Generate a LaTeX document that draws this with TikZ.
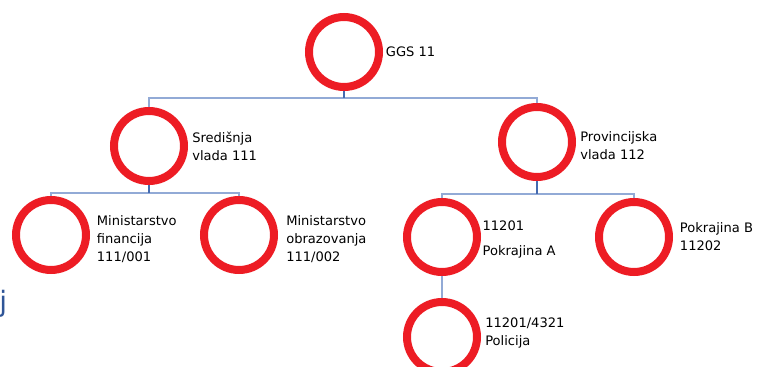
\documentclass[tikz,border=0pt]{standalone}
\usepackage{fontspec}
\setmainfont{DejaVu Sans}
\usetikzlibrary{positioning}

\definecolor{ringred}{RGB}{237,28,36}
\definecolor{buslight}{RGB}{146,170,214}
\definecolor{busdark}{RGB}{68,106,176}
\definecolor{inkblue}{RGB}{47,85,151}

\tikzset{
  unit/.style={circle, draw=ringred, line width=6pt, minimum size=52.5pt, inner sep=0pt},
  tag/.style={align=left, inner sep=0pt, font=\fontsize{9.8}{13.5}\selectfont},
  bus/.style={draw=buslight, line width=1.6pt},
  stub/.style={draw=busdark, line width=1.6pt},
}

\begin{document}
\begin{tikzpicture}[x=0.75pt, y=-0.75pt]
\useasboundingbox (0,0) rectangle (757,367);

% Bus heights
\coordinate (BusTop) at (0,98);
\coordinate (BusLeft) at (0,193);
\coordinate (BusRight) at (0,194);

% Organisation units
\node[unit] (GGS) at (344,52) {};
\node[unit] (Sred) at (149,146) {};
\node[unit] (Prov) at (537,142) {};
\node[unit] (Fin) at (51,235) {};
\node[unit] (Obr) at (239,235) {};
\node[unit] (PokA) at (442,237) {};
\node[unit] (PokB) at (634,237) {};
\node[unit] (Pol) at (442,337) {};

% Labels next to the rings
\node[tag, right=2pt of GGS] (GGSTag) {GGS 11};
\node[tag, right=3pt of Sred] (SredTag) {Središnja\\vlada 111};
\node[tag, right=3pt of Prov, yshift=-3pt] (ProvTag) {Provincijska\\vlada 112};
\node[tag, right=5pt of Fin, yshift=-3pt] (FinTag) {Ministarstvo\\financija\\111/001};
\node[tag, right=6pt of Obr, yshift=-3pt] (ObrTag) {Ministarstvo\\obrazovanja\\111/002};
\node[tag, right=1pt of PokA, yshift=-2pt, font=\fontsize{9.8}{18.75}\selectfont] (PokATag) {11201\\Pokrajina A};
\node[tag, right=5pt of PokB] (PokBTag) {Pokrajina B\\11202};
\node[tag, right=3pt of Pol, yshift=3pt] (PolTag) {11201/4321\\Policija};

\node[inner sep=0pt, anchor=base west, text=inkblue, font=\fontsize{21}{21}\selectfont] (Stray) at (-1,311) {j};

% Top level
\draw[bus] (Sred.north) |- (GGS.south |- BusTop) -| (Prov.north);
\draw[stub] (GGS.south) -- (GGS.south |- BusTop);

% Central government
\draw[bus] (Fin.north) |- (Sred.south |- BusLeft) -| (Obr.north);
\draw[stub] (Sred.south) -- (Sred.south |- BusLeft);

% Provincial government
\draw[bus] (PokA.north) |- (Prov.south |- BusRight) -| (PokB.north);
\draw[stub] (Prov.south) -- (Prov.south |- BusRight);
\draw[bus] (PokA.south) -- (Pol.north);

\end{tikzpicture}
\end{document}
